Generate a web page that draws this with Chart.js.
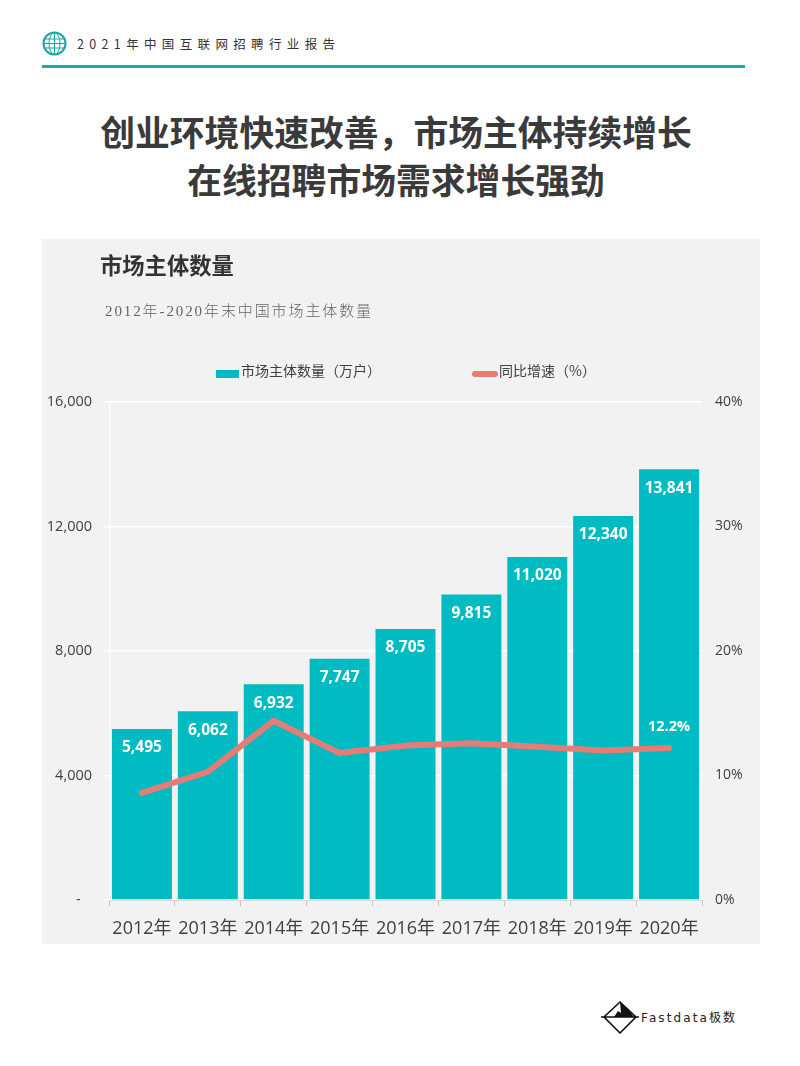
<!DOCTYPE html>
<html lang="zh"><head><meta charset="utf-8">
<script src="https://cdn.jsdelivr.net/npm/chart.js@4/dist/chart.umd.js"></script>
<style>
html,body{margin:0;padding:0;background:#fff;width:800px;height:1066px;overflow:hidden}
body{position:relative;font-family:"Noto Sans CJK SC",sans-serif}
.a{position:absolute;white-space:nowrap}
#panel{left:42px;top:239px;width:718px;height:705px;background:#f2f2f2}
#chartBox{position:absolute;left:0;top:0;width:718px;height:705px}
.title{left:0;width:792px;text-align:center;font-size:34.8px;font-weight:700;color:#3a3a3a;line-height:49px}
.sw{position:absolute}
.lg{font:14px "Noto Sans CJK SC",sans-serif;color:#404040}
</style></head><body>
<svg class="a" style="left:42px;top:31px" width="25" height="25" viewBox="0 0 25 25" fill="none" stroke="#17a5a5">
<circle cx="12.5" cy="12.5" r="11" stroke-width="2"/><ellipse cx="12.5" cy="12.5" rx="5.5" ry="11"/><path d="M12.5 1.5v22M2 8h21M1.5 12.5h22M2 17h21"/></svg>
<div class="a" style="left:77px;top:35px;font-size:12.5px;line-height:18px;letter-spacing:5.35px;color:#333">2021年中国互联网招聘行业报告</div>
<div class="a" style="left:42px;top:65px;width:703px;height:2.5px;background:#1aacac"></div>
<div class="a title" style="top:107px">创业环境快速改善，市场主体持续增长</div>
<div class="a title" style="top:155px">在线招聘市场需求增长强劲</div>
<div class="a" id="panel"><div id="chartBox"><canvas id="c" width="718" height="705" style="width:718px;height:705px;display:block"></canvas></div></div>
<div class="a" style="left:100px;top:249px;font-size:22.3px;font-weight:700;line-height:30px;color:#333">市场主体数量</div>
<div class="a" style="left:105px;top:300px;font-family:'Liberation Serif','Noto Sans CJK SC';font-size:15px;font-weight:300;line-height:22px;letter-spacing:1.9px;color:#666">2012年-2020年末中国市场主体数量</div>
<div id="legend"></div>
<svg class="a" style="left:600px;top:1000px" width="40" height="34" viewBox="0 0 40 34">
<path d="M1 17H39M20 33L4 17L20 2L36 17Z" fill="none" stroke="#111" stroke-width="1.6"/>
<path d="M20 2L29 10L34 17H14L18 11L21 13Z" fill="#111"/></svg>
<div class="a" style="left:641px;top:1009px;font-family:'DejaVu Sans','Noto Sans CJK SC';font-size:12px;line-height:18px;letter-spacing:2.1px;color:#222">Fastdata极数</div>
<script>
const categories=["2012年","2013年","2014年","2015年","2016年","2017年","2018年","2019年","2020年"];
const subjects=[5495,6062,6932,7747,8705,9815,11020,12340,13841];
const growth=[8.6,10.3,14.4,11.8,12.4,12.6,12.3,12.0,12.2];
const leftTicks=[0,4000,8000,12000,16000];
const rightTicks=[0,10,20,30,40];
const seriesNames=["市场主体数量（万户）","同比增速（%）"];
const TEAL="#00bcc2",RED="#e57c75";
const labelFont='"Open Sans",sans-serif';
const valueLabels={id:"valueLabels",afterDatasetsDraw(chart){
  const g=chart.ctx;g.save();g.fillStyle="#fff";g.textAlign="center";g.textBaseline="middle";
  g.font='700 15.5px '+labelFont;
  chart.getDatasetMeta(1).data.forEach((b,i)=>g.fillText(subjects[i].toLocaleString("en-US"),b.x,b.y+19));
  const p=chart.getDatasetMeta(0).data[8];
  g.font='700 14.5px '+labelFont;g.fillText(growth[8].toFixed(1)+"%",p.x,p.y-21);
  g.restore();}};
const fix=(w)=>function(s){s.width=w};
new Chart(document.getElementById("c"),{
 data:{labels:categories,datasets:[
  {type:"line",label:seriesNames[1],data:growth,yAxisID:"y2",borderColor:RED,backgroundColor:RED,borderWidth:6,borderCapStyle:"round",borderJoinStyle:"round",pointRadius:0,tension:0,order:1},
  {type:"bar",label:seriesNames[0],data:subjects,yAxisID:"y",backgroundColor:TEAL,categoryPercentage:1,barPercentage:.91,order:2}
 ]},
 plugins:[valueLabels],
 options:{responsive:false,animation:false,devicePixelRatio:1,
  layout:{padding:{top:163,left:0,right:0,bottom:0}},
  plugins:{legend:{display:false},tooltip:{enabled:false}},
  scales:{
   x:{afterFit(s){s.height=44},grid:{drawOnChartArea:false,color:"#c4c4c4",tickLength:6},border:{color:"#d9d9d9"},
      ticks:{color:"#404040",font:{family:'"Open Sans","Noto Sans CJK SC",sans-serif',size:18},padding:12,maxRotation:0,autoSkip:false}},
   y:{position:"left",min:0,max:16000,afterFit:fix(67),afterBuildTicks(s){s.ticks=leftTicks.map(v=>({value:v}))},
      grid:{color:"#fff",lineWidth:1.5,tickLength:6},border:{color:"#fff",width:1},
      ticks:{color:"#404040",font:{family:labelFont,size:14.5},padding:11,callback:v=>v===0?"-\u00a0\u00a0\u00a0":v.toLocaleString("en-US")}},
   y2:{position:"right",min:0,max:40,afterFit:fix(58),afterBuildTicks(s){s.ticks=rightTicks.map(v=>({value:v}))},
      grid:{drawOnChartArea:false,color:"rgba(255,255,255,0)",tickLength:6},border:{display:false},
      ticks:{color:"#404040",font:{family:labelFont,size:14},padding:7,callback:v=>v+"%"}}
  }}});
const L=document.getElementById("legend");
[[216,370,23,8,0,TEAL,241,seriesNames[0]],[472,371,26,5.5,3,RED,499,seriesNames[1]]].forEach(function(r){
  const s=document.createElement("div");s.className="a sw";
  s.style.cssText=`left:${r[0]}px;top:${r[1]}px;width:${r[2]}px;height:${r[3]}px;border-radius:${r[4]}px;background:${r[5]}`;L.appendChild(s);
  const t=document.createElement("div");t.className="a lg";t.style.cssText=`left:${r[6]}px;top:361px;line-height:18px`;t.textContent=r[7];L.appendChild(t);
});
</script>
</body></html>
